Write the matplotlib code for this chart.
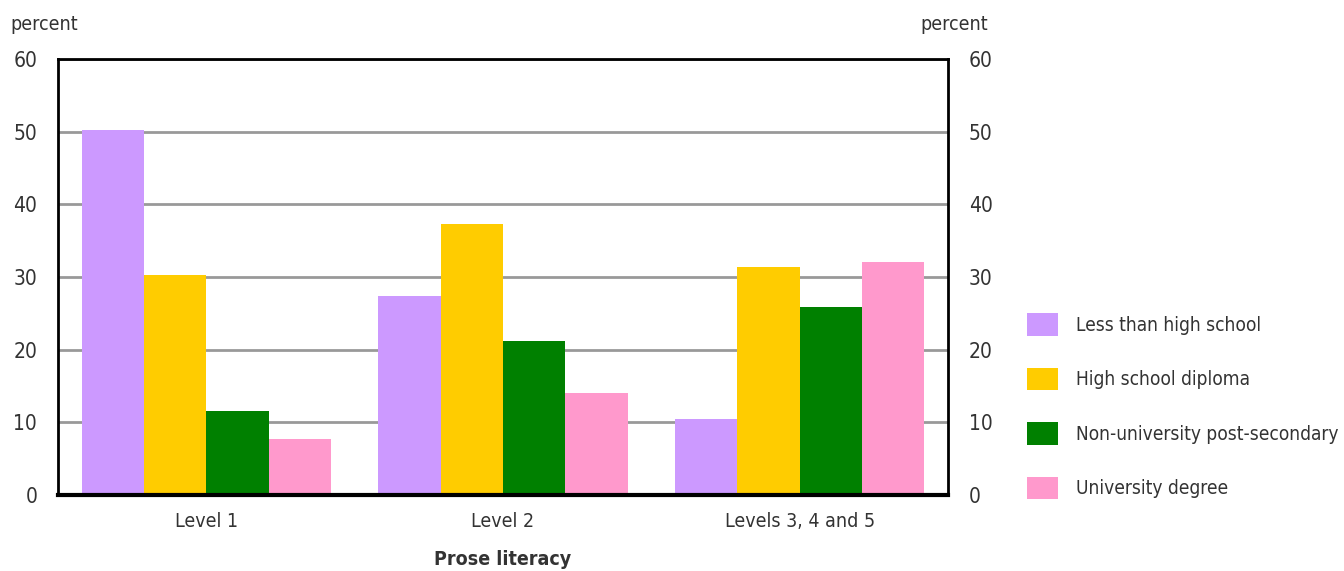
import matplotlib
matplotlib.use("Agg")
import matplotlib.pyplot as plt
from matplotlib import font_manager as fm
import numpy as np
from matplotlib.patches import Patch

categories = ["Level 1", "Level 2", "Levels 3, 4 and 5"]
series_names = ["Less than high school", "High school diploma",
                "Non-university post-secondary", "University degree"]
less_than_hs = [50.2, 27.4, 10.5]
hs_diploma = [30.3, 37.3, 31.4]
non_univ = [11.6, 21.2, 25.9]
univ_degree = [7.7, 14.0, 32.1]
yticks = [0, 10, 20, 30, 40, 50, 60]

colors = ["#cc99ff", "#ffcc00", "#008000", "#ff99cc"]
series = [less_than_hs, hs_diploma, non_univ, univ_degree]

condensed = [f for f in fm.fontManager.ttflist
             if f.name == "DejaVu Sans" and f.stretch == "condensed"]
if condensed:
    plt.rcParams['font.family'] = ['DejaVu Sans']
    plt.rcParams['font.stretch'] = 'condensed'
    fs_tick, fs_txt, fs_leg = 15, 14, 13.7
else:
    plt.rcParams['font.family'] = ['Roboto', 'DejaVu Sans']
    fs_tick, fs_txt, fs_leg = 15, 13, 13
txt = "#333333"

fig = plt.figure(figsize=(13.44, 5.71), dpi=100)
ax = fig.add_axes([58/1344, 76/571, 890/1344, 436/571])

x = np.arange(len(categories))
w = 0.21
for i, (vals, c) in enumerate(zip(series, colors)):
    ax.bar(x + (i - 1.5) * w, vals, width=w, color=c, zorder=3, linewidth=0)

ax.set_xlim(-0.5, 2.5)
ax.set_ylim(0, 60)
ax.set_yticks(yticks)
ax.set_yticklabels([str(v) for v in yticks])
ax.set_xticks(x)
ax.set_xticklabels(categories)
ax.tick_params(axis='y', length=0, pad=15, labelsize=fs_tick, colors=txt,
               labelright=True, right=False)
ax.tick_params(axis='x', length=0, pad=12, labelsize=fs_txt, colors=txt)
ax.grid(axis='y', color="#999999", linewidth=2, zorder=0)
ax.set_axisbelow(True)
for s in ["left", "right", "top"]:
    ax.spines[s].set_linewidth(2)
    ax.spines[s].set_color("black")
ax.spines["bottom"].set_linewidth(3)
ax.spines["bottom"].set_color("black")
ax.spines["bottom"].set_zorder(5)

ax.set_xlabel("Prose literacy", fontsize=fs_txt, fontweight='bold', color=txt, labelpad=14)

fig.text(10/1344, 1 - 25/571, "percent", fontsize=fs_txt, color=txt, va='center', ha='left')
fig.text(988/1344, 1 - 25/571, "percent", fontsize=fs_txt, color=txt, va='center', ha='right')

handles = [Patch(facecolor=c, edgecolor='none') for c in colors]
fig.legend(handles, series_names, loc='upper left',
           bbox_to_anchor=(1010/1344, 1 - 296/571), frameon=False,
           fontsize=fs_leg, labelcolor=txt, handlelength=1.6, handleheight=1.45,
           handletextpad=0.95, labelspacing=1.68)

fig.savefig("out.png", dpi=100)
